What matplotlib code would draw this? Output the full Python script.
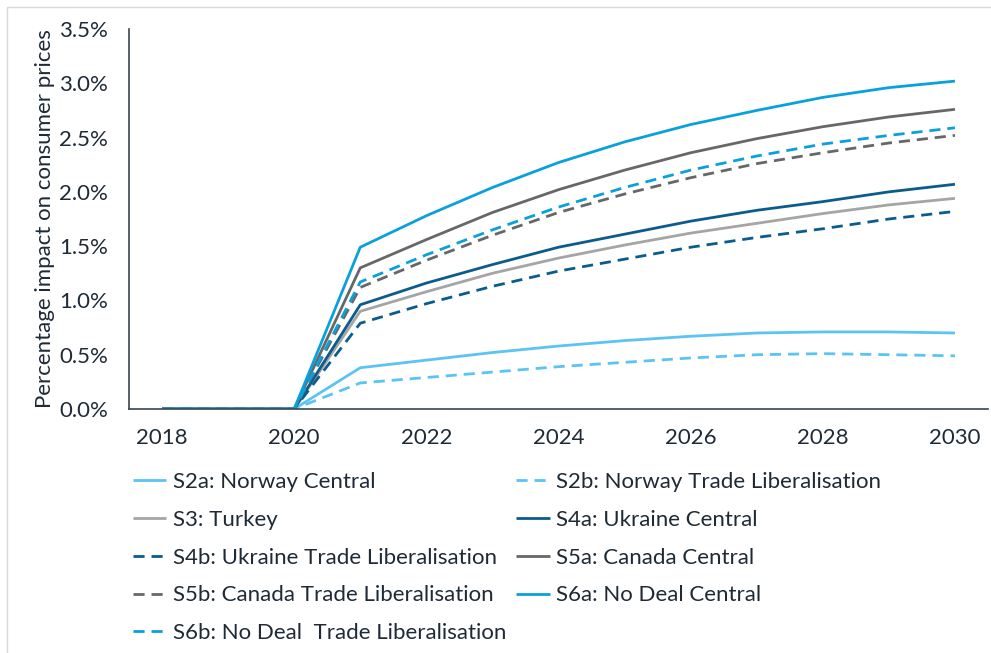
import matplotlib
matplotlib.use("Agg")
import matplotlib.pyplot as plt
from matplotlib.patches import Rectangle
from matplotlib.ticker import FuncFormatter, MultipleLocator

years = [2018, 2019, 2020, 2021, 2022, 2023, 2024, 2025, 2026, 2027, 2028, 2029, 2030]
xtick_years = [2018, 2020, 2022, 2024, 2026, 2028, 2030]

s2a = [0, 0, 0, 0.38, 0.45, 0.52, 0.58, 0.63, 0.67, 0.70, 0.71, 0.71, 0.70]
s2b = [0, 0, 0, 0.24, 0.29, 0.34, 0.39, 0.43, 0.47, 0.50, 0.51, 0.50, 0.49]
s3 = [0, 0, 0, 0.90, 1.08, 1.25, 1.39, 1.51, 1.62, 1.71, 1.80, 1.88, 1.94]
s4a = [0, 0, 0, 0.96, 1.16, 1.33, 1.49, 1.61, 1.73, 1.83, 1.91, 2.00, 2.07]
s4b = [0, 0, 0, 0.79, 0.97, 1.13, 1.27, 1.38, 1.49, 1.58, 1.66, 1.75, 1.82]
s5a = [0, 0, 0, 1.30, 1.56, 1.81, 2.02, 2.20, 2.36, 2.49, 2.60, 2.69, 2.76]
s5b = [0, 0, 0, 1.12, 1.37, 1.60, 1.81, 1.98, 2.13, 2.26, 2.36, 2.45, 2.52]
s6a = [0, 0, 0, 1.49, 1.78, 2.04, 2.27, 2.46, 2.62, 2.75, 2.87, 2.96, 3.02]
s6b = [0, 0, 0, 1.17, 1.42, 1.65, 1.86, 2.04, 2.20, 2.33, 2.44, 2.52, 2.59]

labels = [
    "S2a: Norway Central",
    "S2b: Norway Trade Liberalisation",
    "S3: Turkey",
    "S4a: Ukraine Central",
    "S4b: Ukraine Trade Liberalisation",
    "S5a: Canada Central",
    "S5b: Canada Trade Liberalisation",
    "S6a: No Deal Central",
    "S6b: No Deal  Trade Liberalisation",
]
series = [s2a, s2b, s3, s4a, s4b, s5a, s5b, s6a, s6b]
colors = ["#5BC4F5", "#5BC4F5", "#A5A5A5", "#0B5C8C", "#0B5C8C",
          "#676767", "#676767", "#0AA0DC", "#0AA0DC"]
dashed = [False, True, False, False, True, False, True, False, True]

plt.rcParams['font.family'] = ['Lato', 'DejaVu Sans']
text_color = "#1E2A36"
fs = 16

fig = plt.figure(figsize=(9.91, 6.53), dpi=100)
fig.add_artist(Rectangle((7 / 991, -0.01), 1.02, 1 - 7 / 653 + 0.01,
                         transform=fig.transFigure, fill=False,
                         edgecolor="#D9D9D9", linewidth=1.0))

ax = fig.add_axes([129 / 991, 1 - 409 / 653, (988 - 129) / 991, (409 - 29) / 653])

handles = []
for vals, lab, col, dsh in zip(series, labels, colors, dashed):
    ln, = ax.plot(years, [v / 100 for v in vals], color=col, linewidth=2.0,
                  label=lab, solid_capstyle='butt', dash_capstyle='butt')
    if dsh:
        ln.set_dashes((4.0, 2.5))
    handles.append(ln)

ax.set_xlim(2017.5, 2030.5)
ax.set_ylim(0, 0.035)
ax.set_xticks(xtick_years)
ax.yaxis.set_major_locator(MultipleLocator(0.005))
ax.yaxis.set_major_formatter(FuncFormatter(lambda v, p: f"{v * 100:.1f}%"))
ax.tick_params(axis='both', length=0, labelsize=fs, colors=text_color)
ax.tick_params(axis='x', pad=14)
ax.tick_params(axis='y', pad=15)
for s in ["top", "right"]:
    ax.spines[s].set_visible(False)
for s in ["left", "bottom"]:
    ax.spines[s].set_color("#3A4550")
    ax.spines[s].set_linewidth(1.2)
ax.set_ylabel("Percentage impact on consumer prices", fontsize=fs, color=text_color, labelpad=3)

order = [0, 2, 4, 6, 8, 1, 3, 5, 7]
leg = fig.legend([handles[i] for i in order], [labels[i] for i in order],
                 ncol=2, loc='upper left', bbox_to_anchor=(133 / 991, 1 - 472 / 653),
                 frameon=False, fontsize=fs, handlelength=1.5, handletextpad=0.3,
                 columnspacing=0.45, labelspacing=0.8, borderaxespad=0, borderpad=0)
for t in leg.get_texts():
    t.set_color(text_color)

fig.savefig("out.png", dpi=100)
